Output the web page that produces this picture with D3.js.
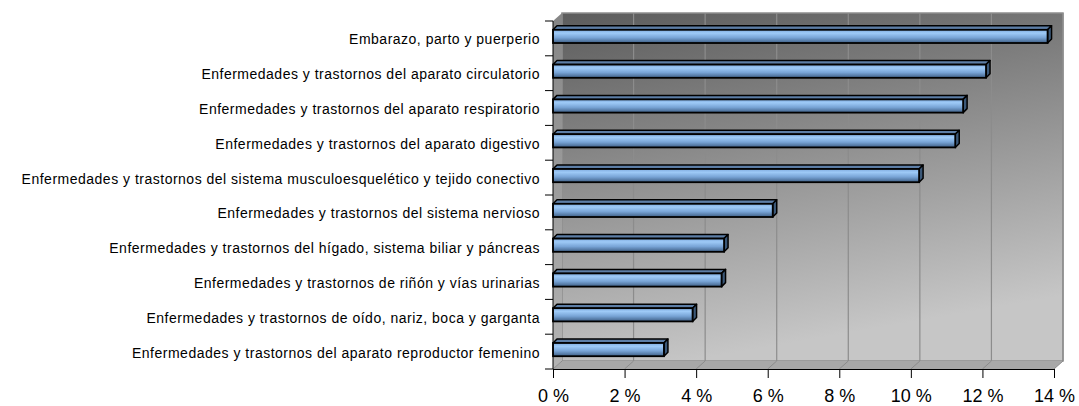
<!DOCTYPE html>
<html>
<head>
<meta charset="utf-8">
<script src="https://cdn.jsdelivr.net/npm/d3@7"></script>
<style>
  body { margin: 0; background: #fff; }
  svg { display: block; font-family: "Liberation Sans", Arial, sans-serif; }
</style>
</head>
<body>
<svg id="chart" width="1079" height="406"></svg>
<script>
// Categories (top to bottom) and their share (%)
const categories = [
  "Embarazo, parto y puerperio",
  "Enfermedades y trastornos del aparato circulatorio",
  "Enfermedades y trastornos del aparato respiratorio",
  "Enfermedades y trastornos del aparato digestivo",
  "Enfermedades y trastornos del sistema musculoesquelético y tejido conectivo",
  "Enfermedades y trastornos del sistema nervioso",
  "Enfermedades y trastornos del hígado, sistema biliar y páncreas",
  "Enfermedades y trastornos de riñón y vías urinarias",
  "Enfermedades y trastornos de oído, nariz, boca y garganta",
  "Enfermedades y trastornos del aparato reproductor femenino"
];
const values = [13.82, 12.10, 11.46, 11.24, 10.23, 6.14, 4.78, 4.71, 3.90, 3.10];
const xTicks = [0, 2, 4, 6, 8, 10, 12, 14];

const svg = d3.select("#chart");

// plot frame (front plane) and 3D depth
const pLeft = 553, pRight = 1054, pTop = 21, pBottom = 369;
const depthX = 9, depthY = 8;   // wall depth
const barDepth = 4;             // bar depth

const xScale = d3.scaleLinear().domain([0, 14]).range([pLeft, pRight]);
const yScale = d3.scaleBand()
  .domain(categories)
  .range([pTop, pBottom])
  .paddingInner(0.62)
  .paddingOuter(0.31);
const yEdge = d3.scaleLinear().domain([0, categories.length]).range([pTop, pBottom]);

const defs = svg.append("defs");

const wallGrad = defs.append("linearGradient")
  .attr("id", "wallGrad").attr("x1", 0).attr("y1", 0).attr("x2", 0.25).attr("y2", 1);
wallGrad.append("stop").attr("offset", "0%").attr("stop-color", "#5c5c5c");
wallGrad.append("stop").attr("offset", "100%").attr("stop-color", "#c6c6c6");

const sideGrad = defs.append("linearGradient")
  .attr("id", "sideGrad").attr("x1", 0).attr("y1", 0).attr("x2", 0).attr("y2", 1);
sideGrad.append("stop").attr("offset", "0%").attr("stop-color", "#858585");
sideGrad.append("stop").attr("offset", "100%").attr("stop-color", "#b4b4b4");

const barGrad = defs.append("linearGradient")
  .attr("id", "barGrad").attr("x1", 0).attr("y1", 0).attr("x2", 0).attr("y2", 1);
barGrad.append("stop").attr("offset", "0%").attr("stop-color", "#7eaadd");
barGrad.append("stop").attr("offset", "25%").attr("stop-color", "#9ecaf7");
barGrad.append("stop").attr("offset", "60%").attr("stop-color", "#78a4d6");
barGrad.append("stop").attr("offset", "100%").attr("stop-color", "#3e5e84");

// back wall
svg.append("rect")
  .attr("x", pLeft + depthX)
  .attr("y", pTop - depthY)
  .attr("width", pRight - pLeft)
  .attr("height", pBottom - pTop)
  .attr("fill", "url(#wallGrad)")
  .attr("stroke", "#8e8e8e")
  .attr("stroke-width", 1.5);

// left side wall
svg.append("path")
  .attr("d", `M${pLeft},${pTop}L${pLeft + depthX},${pTop - depthY}L${pLeft + depthX},${pBottom - depthY}L${pLeft},${pBottom}Z`)
  .attr("fill", "url(#sideGrad)");

// floor
svg.append("path")
  .attr("d", `M${pLeft},${pBottom}L${pLeft + depthX},${pBottom - depthY}L${pRight + depthX},${pBottom - depthY}L${pRight},${pBottom}Z`)
  .attr("fill", "#a8a8a8");

// gridlines on the wall and floor
svg.append("g")
  .selectAll("line")
  .data(xTicks.slice(1))
  .join("line")
  .attr("x1", d => xScale(d) + depthX)
  .attr("x2", d => xScale(d) + depthX)
  .attr("y1", pTop - depthY)
  .attr("y2", pBottom - depthY)
  .attr("stroke", "#8c8c8c")
  .attr("stroke-width", 1.2);

svg.append("g")
  .selectAll("line")
  .data(xTicks)
  .join("line")
  .attr("x1", d => xScale(d))
  .attr("x2", d => xScale(d) + depthX)
  .attr("y1", pBottom)
  .attr("y2", pBottom - depthY)
  .attr("stroke", "#8c8c8c")
  .attr("stroke-width", 1);

// bars
const bars = svg.append("g")
  .selectAll("g")
  .data(categories.map((c, i) => ({ c, v: values[i] })))
  .join("g")
  .attr("transform", d => `translate(0,${yScale(d.c) - 2})`);

const bh = yScale.bandwidth();

bars.append("path") // top face
  .attr("d", d => `M${pLeft},0L${pLeft + barDepth},${-barDepth}L${xScale(d.v) + barDepth},${-barDepth}L${xScale(d.v)},0Z`)
  .attr("fill", "#5d7ea6")
  .attr("stroke", "#000")
  .attr("stroke-width", 1.5)
  .attr("stroke-linejoin", "round");

bars.append("path") // side face
  .attr("d", d => `M${xScale(d.v)},0L${xScale(d.v) + barDepth},${-barDepth}L${xScale(d.v) + barDepth},${bh - barDepth}L${xScale(d.v)},${bh}Z`)
  .attr("fill", "#3b5878")
  .attr("stroke", "#000")
  .attr("stroke-width", 1.5)
  .attr("stroke-linejoin", "round");

bars.append("rect") // front face
  .attr("x", pLeft)
  .attr("y", 0)
  .attr("width", d => xScale(d.v) - pLeft)
  .attr("height", bh)
  .attr("fill", "url(#barGrad)")
  .attr("stroke", "#000")
  .attr("stroke-width", 1.8);

// y axis
svg.append("line")
  .attr("x1", pLeft).attr("x2", pLeft)
  .attr("y1", pTop).attr("y2", pBottom)
  .attr("stroke", "#000");

svg.append("g")
  .selectAll("line")
  .data(d3.range(categories.length + 1))
  .join("line")
  .attr("x1", pLeft - 8).attr("x2", pLeft)
  .attr("y1", d => yEdge(d)).attr("y2", d => yEdge(d))
  .attr("stroke", "#000");

svg.append("g")
  .selectAll("text")
  .data(categories)
  .join("text")
  .attr("x", 540)
  .attr("y", d => yScale(d) + bh / 2 + 1)
  .attr("dy", "0.35em")
  .attr("text-anchor", "end")
  .attr("font-size", 14)
  .attr("letter-spacing", 0.5)
  .attr("fill", "#000")
  .text(d => d);

// x axis
const xAxis = d3.axisBottom(xScale)
  .tickValues(xTicks)
  .tickFormat(d => d + " %")
  .tickSize(9)
  .tickPadding(11);

svg.append("g")
  .attr("transform", `translate(0,${pBottom})`)
  .call(xAxis)
  .call(g => g.select(".domain").attr("stroke", "#000"))
  .call(g => g.selectAll("text").attr("font-size", 18).attr("fill", "#000")
    .attr("font-family", "'Liberation Sans', Arial, sans-serif"));
</script>
</body>
</html>
